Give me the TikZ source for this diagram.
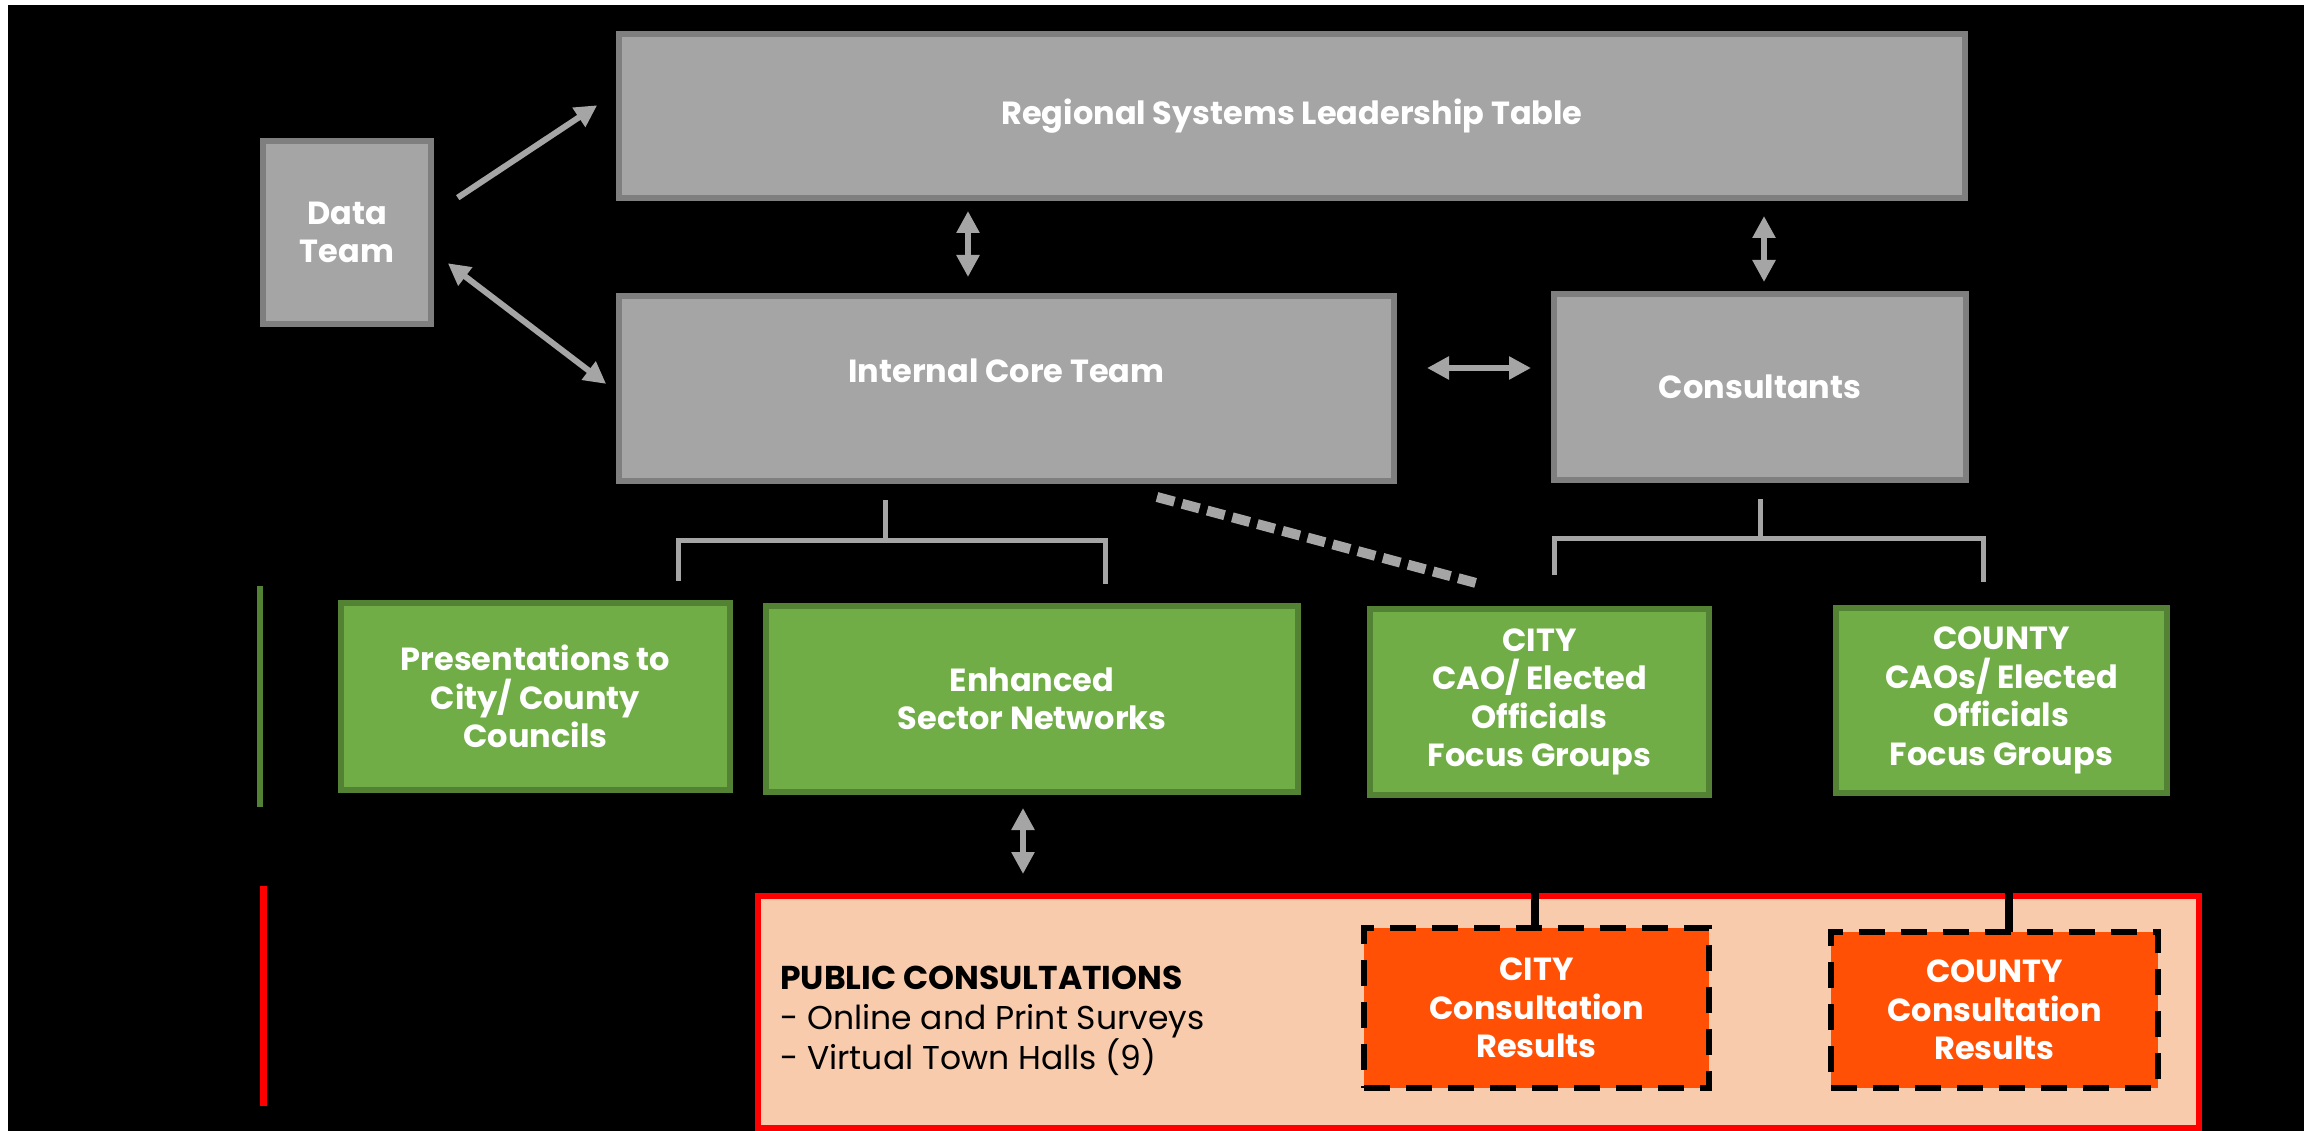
\documentclass[tikz,border=0pt]{standalone}
\usepackage{fontspec}
\setmainfont{Poppins}
\usetikzlibrary{arrows.meta,calc}
\definecolor{boxgray}{HTML}{A5A5A5}
\definecolor{edgegray}{HTML}{7F7F7F}
\definecolor{grfill}{HTML}{70AD47}
\definecolor{gredge}{HTML}{548235}
\definecolor{peach}{HTML}{F8CBAD}
\definecolor{resred}{HTML}{FF0000}
\definecolor{resorange}{HTML}{FF5005}
\begin{document}
\begin{tikzpicture}[x=1pt,y=-1pt,
  boxfont/.style={font=\fontsize{32}{38.5}\selectfont\bfseries},
  graybox/.style={draw=edgegray, fill=boxgray, line width=6pt, text=white, boxfont, align=center, inner sep=0pt},
  greenbox/.style={draw=gredge, fill=grfill, line width=6pt, text=white, boxfont, align=center, inner sep=0pt},
  resbox/.style={draw=black, fill=resorange, line width=6pt, dash pattern=on 26pt off 16pt, text=white, boxfont, align=center, inner sep=0pt},
  arrline/.style={draw=boxgray, line width=6pt},
  dblarr/.style={arrline, {Triangle[length=22pt,width=22pt]}-{Triangle[length=22pt,width=22pt]}},
  sglarr/.style={arrline, -{Triangle[length=22pt,width=22pt]}},
  brk/.style={draw=boxgray, line width=5pt},
  dsh/.style={draw=boxgray, line width=10pt, dash pattern=on 18pt off 8pt},
  blk/.style={draw=black, line width=8pt}]
\useasboundingbox (0,0) rectangle (2313,1131);
\fill[white] (0,0) rectangle (2313,1131);
\fill[black] (8,5) rectangle (2304,1131);

% gray boxes
\node[graybox, minimum width=168pt, minimum height=183pt] (data) at (347,232.5) {Data\\Team};
\node[graybox, minimum width=1346pt, minimum height=164pt] (rslt) at (1292,116) {Regional Systems Leadership Table};
\node[graybox, minimum width=775pt, minimum height=185pt,
      label={[text=white, boxfont, yshift=18pt]center:Internal Core Team}] (ict) at (1006.5,388.5) {};
\node[graybox, minimum width=412pt, minimum height=186pt] (cons) at (1760,387) {Consultants};

% arrows
\draw[sglarr, shorten <=28.5pt, shorten >=22.6pt] (data.east |- 0,213.4) -- (rslt.west |- 0,92.8);
\draw[dblarr, shorten <=17.4pt, shorten >=12.4pt] (data.east |- 0,252.7) -- (ict.west |- 0,391.4);
\draw[dblarr, shorten <=10pt, shorten >=16pt] (rslt.south -| 968,0) -- (ict.north -| 968,0);
\draw[dblarr, shorten <=15pt, shorten >=9pt] (rslt.south -| 1764,0) -- (cons.north -| 1764,0);
\draw[dblarr, shorten <=30pt, shorten >=20pt] (ict.east |- 0,368) -- (cons.west |- 0,368);

% green boxes
\node[greenbox, minimum width=389pt, minimum height=187pt] (pres) at (535.5,696.5) {Presentations to\\City/ County\\Councils};
\node[greenbox, minimum width=532pt, minimum height=186pt] (enh) at (1032,699) {Enhanced\\Sector Networks};
\node[greenbox, minimum width=339pt, minimum height=186pt] (city) at (1539.5,702) {CITY\\CAO/ Elected\\Officials\\Focus Groups};
\node[greenbox, minimum width=331pt, minimum height=185pt] (county) at (2001.5,700.5) {COUNTY\\CAOs/ Elected\\Officials\\Focus Groups};

% brackets
\draw[brk, shorten <=16pt] (ict.south -| 885,0) -- (885,540);
\draw[brk, shorten <=19pt, shorten >=19pt] (pres.north -| 678,0) -- (678,540) -- (1105,540) -- (enh.north -| 1105,0);
\draw[brk, shorten <=16pt] (cons.south -| 1760,0) -- (1760,538);
\draw[brk, shorten <=31pt, shorten >=23pt] (city.north -| 1554,0) -- (1554,538) -- (1983,538) -- (county.north -| 1983,0);
\coordinate (dashA) at (1157,497);
\coordinate (dashB) at (1476,583);
\draw[dsh] (dashA) -- (dashB);

% side markers
\draw[draw=gredge, line width=6pt] (260,586) -- (260,807);
\draw[draw=resred, line width=7pt] (263,886) -- (263,1106);

% public consultations
\node[draw=resred, fill=peach, line width=6pt, minimum width=1441pt, minimum height=232pt, inner sep=0pt] (pc) at (1478.5,1012) {};
\node[anchor=west, align=left, text=black, font=\fontsize{33}{40}\selectfont, inner sep=0pt] (pctext) at (780,1021)
  {\textbf{PUBLIC CONSULTATIONS}\\- Online and Print Surveys\\- Virtual Town Halls (9)};
\draw[dblarr, shorten <=13pt, shorten >=19pt] (enh.south -| 1023,0) -- (pc.north -| 1023,0);

% black connectors
\draw[blk] (city.south -| 1535,0) -- (1535,930);
\draw[blk] (county.south -| 2009,0) -- (2009,934);

% results
\node[resbox, minimum width=345pt, minimum height=160pt] (cityres) at (1536.5,1008) {CITY\\Consultation\\Results};
\node[resbox, minimum width=327pt, minimum height=156pt] (countyres) at (1994.5,1010) {COUNTY\\Consultation\\Results};
\end{tikzpicture}
\end{document}
